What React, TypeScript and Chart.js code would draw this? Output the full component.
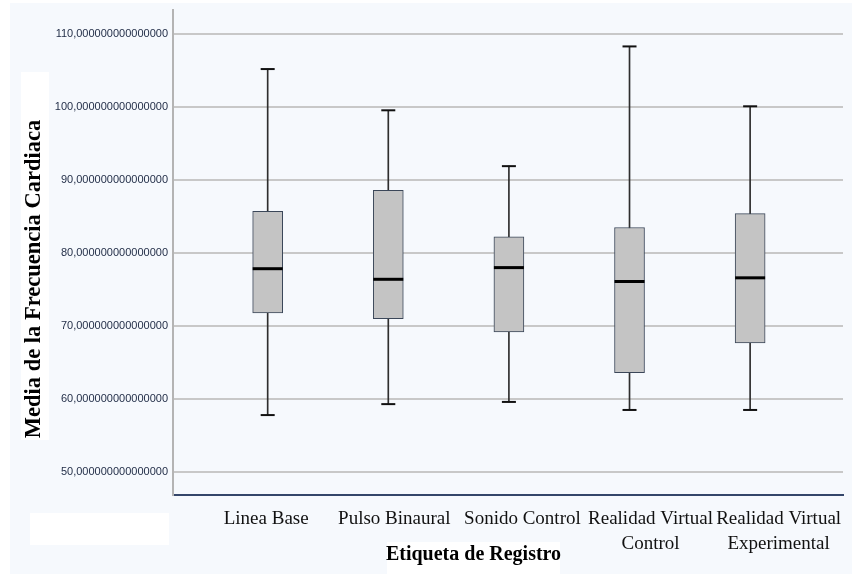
import React, { useEffect, useRef } from 'react';
import { Chart, registerables } from 'chart.js';

Chart.register(...registerables);

const categories: (string | string[])[] = [
  'Linea Base',
  'Pulso Binaural',
  'Sonido Control',
  ['Realidad Virtual', 'Control'],
  ['Realidad Virtual', 'Experimental'],
];
const minValues = [57.8, 59.3, 59.6, 58.5, 58.5];
const q1Values = [71.8, 71.0, 69.2, 63.6, 67.7];
const medianValues = [77.85, 76.4, 78.0, 76.1, 76.6];
const q3Values = [85.7, 88.6, 82.2, 83.5, 85.4];
const maxValues = [105.2, 99.55, 91.9, 108.3, 100.1];
const yTicks = [50, 60, 70, 80, 90, 100, 110];

const yTitle = 'Media de la Frecuencia Cardiaca';
const xTitle = 'Etiqueta de Registro';

const BG = '#f6f9fd';

const decorPlugin = {
  id: 'decor',
  beforeDraw(chart: any) {
    const { ctx, width, height, chartArea } = chart;
    ctx.save();
    ctx.fillStyle = BG;
    ctx.fillRect(0, 0, width, height);
    ctx.fillStyle = '#ffffff';
    // white panel behind the y title
    ctx.fillRect(chartArea.left - 152, chartArea.top + 62, 28, 368);
    // empty white panel at bottom-left
    ctx.fillRect(chartArea.left - 143, chartArea.bottom + 18, 139, 32);
    // white panel behind the x title
    ctx.fillRect(chartArea.left + 214, chartArea.bottom + 47, 173, 40);
    ctx.restore();
  },
  afterDraw(chart: any) {
    const { ctx, chartArea } = chart;
    ctx.save();
    ctx.fillStyle = '#000000';
    ctx.font = 'bold 22.5px "Liberation Serif", "Times New Roman", serif';
    ctx.textAlign = 'center';
    ctx.textBaseline = 'alphabetic';
    ctx.translate(chartArea.left - 133, chartArea.top + 269);
    ctx.rotate(-Math.PI / 2);
    ctx.fillText(yTitle, 0, 0);
    ctx.restore();

    ctx.save();
    ctx.fillStyle = '#000000';
    ctx.font = 'bold 20px "Liberation Serif", "Times New Roman", serif';
    ctx.textAlign = 'center';
    ctx.textBaseline = 'alphabetic';
    ctx.fillText(xTitle, chartArea.left + 300.5, chartArea.bottom + 65);
    ctx.restore();
  },
};

export default function App() {
  const ref = useRef<HTMLCanvasElement>(null);

  useEffect(() => {
    const idx = categories.map((_, i) => i);
    const chart = new Chart(ref.current as HTMLCanvasElement, {
      type: 'bar',
      data: {
        datasets: [
          {
            type: 'bar',
            label: 'whisker',
            xAxisID: 'xb',
            yAxisID: 'y',
            data: idx.map((i) => ({ x: i, y: [minValues[i], maxValues[i]] })) as any,
            backgroundColor: '#2e2e2e',
            barThickness: 1,
            grouped: false,
            order: 4,
          } as any,
          {
            type: 'bar',
            label: 'box',
            xAxisID: 'xb',
            yAxisID: 'y',
            data: idx.map((i) => ({ x: i, y: [q1Values[i], q3Values[i]] })) as any,
            backgroundColor: '#c4c4c4',
            borderColor: '#3b4759',
            borderWidth: 1,
            borderSkipped: false,
            barThickness: 30,
            grouped: false,
            order: 3,
          } as any,
          {
            type: 'scatter',
            label: 'caps',
            xAxisID: 'xb',
            yAxisID: 'y',
            data: [
              ...idx.map((i) => ({ x: i, y: minValues[i] })),
              ...idx.map((i) => ({ x: i, y: maxValues[i] })),
            ],
            pointStyle: 'line',
            pointRadius: 7,
            pointBorderColor: '#111111',
            pointBorderWidth: 2,
            order: 2,
          } as any,
          {
            type: 'scatter',
            label: 'median',
            xAxisID: 'xb',
            yAxisID: 'y',
            data: idx.map((i) => ({ x: i, y: medianValues[i] })),
            pointStyle: 'line',
            pointRadius: 15,
            pointBorderColor: '#000000',
            pointBorderWidth: 3,
            order: 1,
          } as any,
        ],
      },
      options: {
        responsive: false,
        animation: false,
        devicePixelRatio: 1,
        events: [],
        layout: { autoPadding: false, padding: { top: 7, right: 9, bottom: 0, left: 0 } },
        plugins: {
          legend: { display: false },
          tooltip: { enabled: false },
          title: { display: false },
        },
        scales: {
          x: {
            type: 'linear',
            position: 'bottom',
            min: -0.7276,
            max: 4.5026,
            offset: false,
            afterBuildTicks: (axis: any) => {
              axis.ticks = idx.map((i) => ({ value: i }));
            },
            afterFit: (axis: any) => {
              axis.height = 79;
              axis.paddingLeft = 0;
              axis.paddingRight = 0;
            },
            grid: { display: false, drawTicks: false, tickLength: 0, offset: false },
            border: { display: true, color: '#34466a', width: 2 },
            ticks: {
              autoSkip: false,
              maxRotation: 0,
              minRotation: 0,
              padding: 11,
              color: '#111111',
              font: { family: '"Liberation Serif", "Times New Roman", serif', size: 19, lineHeight: 1.35 },
              callback: (v: any) => categories[Number(v)] ?? '',
            },
          },
          xb: {
            type: 'linear',
            display: false,
            position: 'bottom',
            min: -0.785,
            max: 4.77,
            offset: false,
            grid: { offset: false },
          },
          y: {
            type: 'linear',
            min: 46.85,
            max: 113.29,
            beginAtZero: false,
            afterBuildTicks: (axis: any) => {
              axis.ticks = yTicks.map((v) => ({ value: v }));
            },
            afterFit: (axis: any) => {
              axis.width = 163;
              axis.paddingTop = 0;
              axis.paddingBottom = 0;
            },
            grid: { color: '#c8c8c8', lineWidth: 2, drawTicks: false, tickLength: 0 },
            border: { display: true, color: '#b4b4b4', width: 2 },
            ticks: {
              padding: 5,
              color: '#1e2a44',
              font: { family: '"Liberation Sans", Arial, sans-serif', size: 11 },
              callback: (v: any) => Number(v).toFixed(15).replace('.', ','),
            },
          },
        },
      } as any,
      plugins: [decorPlugin],
    });
    return () => chart.destroy();
  }, []);

  return (
    <div style={{ position: 'absolute', left: 10, top: 3, width: 842, height: 571 }}>
      <canvas ref={ref} width={842} height={571} style={{ display: 'block', width: 842, height: 571 }} />
    </div>
  );
}
